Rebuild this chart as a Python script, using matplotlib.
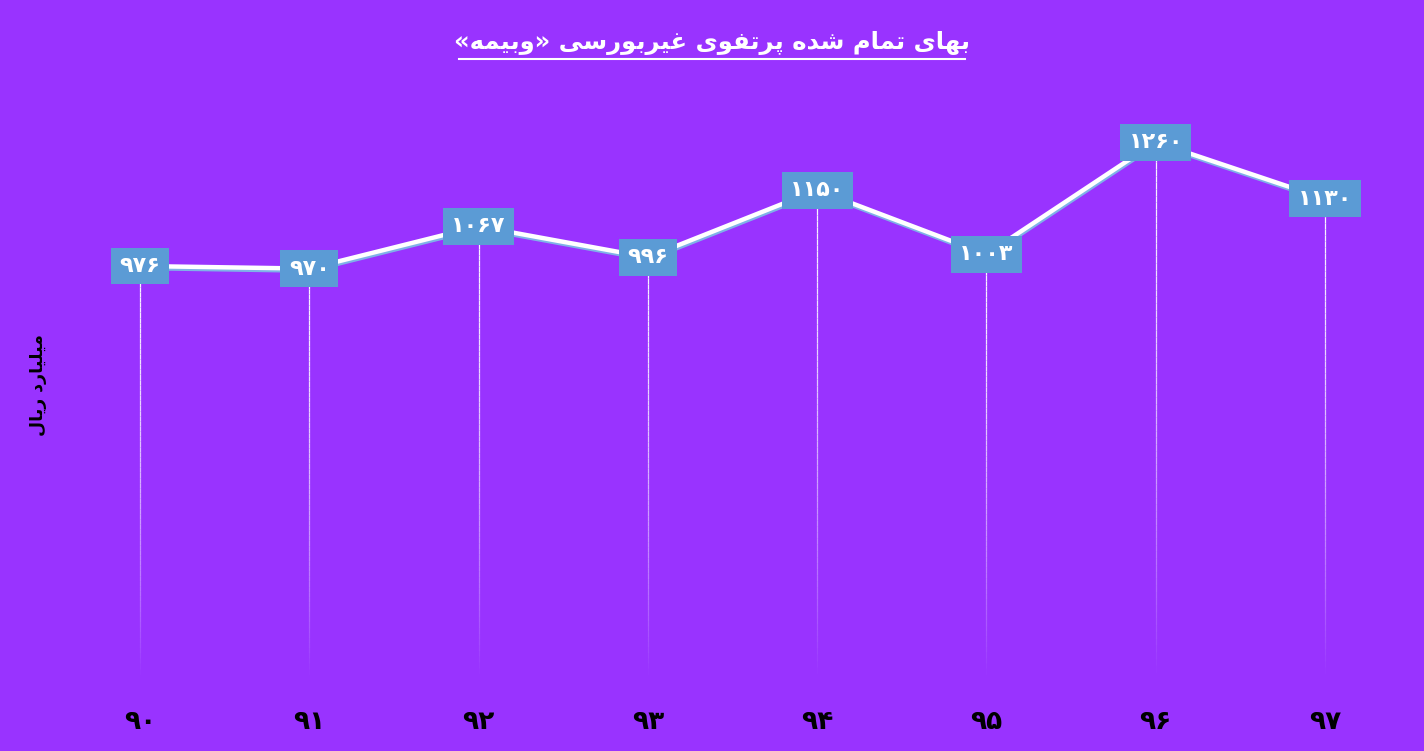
import numpy as np
import matplotlib
matplotlib.use('Agg')
import matplotlib.pyplot as plt
import matplotlib.patheffects as pe
from matplotlib.collections import LineCollection

BG = '#9933FF'
BOX = '#5B9BD5'

years = ['۹۰', '۹۱', '۹۲', '۹۳', '۹۴', '۹۵', '۹۶', '۹۷']
values = [976, 970, 1067, 996, 1150, 1003, 1260, 1130]
value_labels = ['۹۷۶', '۹۷۰', '۱۰۶۷', '۹۹۶', '۱۱۵۰', '۱۰۰۳', '۱۲۶۰', '۱۱۳۰']
title = 'بهای تمام شده پرتفوی غیربورسی «وبیمه»'
ylabel = 'میلیارد ریال'

# minimal persian shaping: (isolated, final, initial, medial); 2-tuple = right-joining only
FORMS = {
    'ا': ('\uFE8D', '\uFE8E'),
    'د': ('\uFEA9', '\uFEAA'),
    'ر': ('\uFEAD', '\uFEAE'),
    'و': ('\uFEED', '\uFEEE'),
    'ب': ('\uFE8F', '\uFE90', '\uFE91', '\uFE92'),
    'ه': ('\uFEE9', '\uFEEA', '\uFEEB', '\uFEEC'),
    'ی': ('\uFBFC', '\uFBFD', '\uFBFE', '\uFBFF'),
    'ت': ('\uFE95', '\uFE96', '\uFE97', '\uFE98'),
    'م': ('\uFEE1', '\uFEE2', '\uFEE3', '\uFEE4'),
    'ش': ('\uFEB5', '\uFEB6', '\uFEB7', '\uFEB8'),
    'پ': ('\uFB56', '\uFB57', '\uFB58', '\uFB59'),
    'ف': ('\uFED1', '\uFED2', '\uFED3', '\uFED4'),
    'غ': ('\uFECD', '\uFECE', '\uFECF', '\uFED0'),
    'س': ('\uFEB1', '\uFEB2', '\uFEB3', '\uFEB4'),
    'ل': ('\uFEDD', '\uFEDE', '\uFEDF', '\uFEE0'),
}
MIRROR = {'«': '»', '»': '«', '(': ')', ')': '('}


def shape_fa(text):
    out = []
    for i, ch in enumerate(text):
        f = FORMS.get(ch)
        if f is None:
            out.append(ch)
            continue
        prev = text[i - 1] if i > 0 else ''
        nxt = text[i + 1] if i + 1 < len(text) else ''
        join_prev = prev in FORMS and len(FORMS[prev]) == 4
        join_next = len(f) == 4 and nxt in FORMS
        if join_prev and join_next:
            out.append(f[3])
        elif join_prev:
            out.append(f[1])
        elif join_next:
            out.append(f[2])
        else:
            out.append(f[0])
    return ''.join(MIRROR.get(c, c) for c in reversed(out))


plt.rcParams['font.family'] = ['DejaVu Sans']

fig = plt.figure(figsize=(14.24, 7.51), dpi=100, facecolor=BG)
ax = fig.add_axes([0.0389, 0.0786, 0.951, 0.8136], facecolor=BG)

x = np.arange(len(values))
ymin, ymax = 0, 1400
ax.set_xlim(-0.5, len(values) - 0.5)
ax.set_ylim(ymin, ymax)

# drop lines fading toward the bottom
n = 80
for xi, v in zip(x, values):
    ys = np.linspace(v, ymin + 30, n + 1)
    segs = [[(xi, ys[k]), (xi, ys[k + 1])] for k in range(n)]
    alphas = 0.95 * (1 - np.linspace(0, 1, n) ** 1.6)
    cols = [(1, 1, 1, a) for a in alphas]
    ax.add_collection(LineCollection(segs, colors=cols, linewidths=0.9, zorder=2))

ax.plot(x, values, color='white', lw=3.2, zorder=3, solid_capstyle='round',
        path_effects=[pe.SimpleLineShadow(offset=(0.5, -1.5), shadow_color='#7FB2E8', alpha=1.0),
                      pe.Normal()])

for xi, v, lab in zip(x, values, value_labels):
    ax.text(xi, v, lab, ha='center', va='center', color='white', fontsize=16,
            fontweight='bold', zorder=5,
            bbox=dict(boxstyle='square,pad=0.38', fc=BOX, ec='none'))

ax.set_xticks(x)
ax.set_xticklabels(years, fontsize=19, fontweight='bold', color='black')
ax.tick_params(axis='x', length=0, pad=12)
ax.set_yticks([])
for s in ax.spines.values():
    s.set_visible(False)

fig.text(0.5, 0.943, shape_fa(title), ha='center', va='center', color='white',
         fontsize=17.5, fontweight='bold')
fig.add_artist(plt.Line2D([0.3225, 0.6775], [0.921, 0.921], color='white', lw=1.5))
fig.text(0.027, 0.487, shape_fa(ylabel), ha='center', va='center', rotation=90,
         color='black', fontsize=12.5, fontweight='bold')

fig.savefig('out.png', dpi=100, facecolor=BG)
